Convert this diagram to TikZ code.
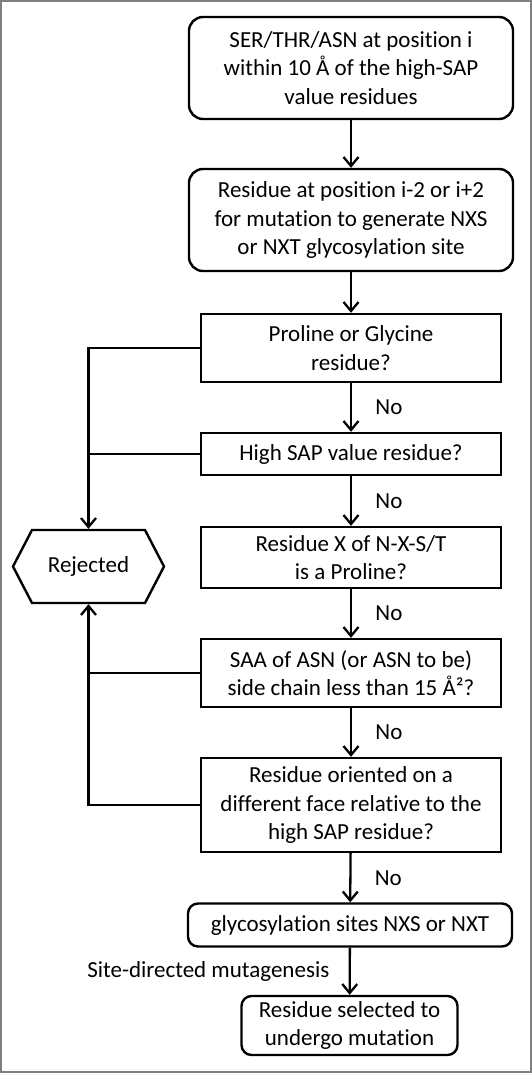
\documentclass[tikz,border=0pt]{standalone}
\usepackage{fontspec}
\setmainfont{Carlito}[Ligatures=NoCommon]
\usetikzlibrary{arrows.meta,shapes.symbols}

\tikzset{
  roundbox/.style={draw, rounded corners=14pt, line width=2.4pt, align=center, inner sep=0pt},
  squarebox/.style={draw, line width=2.4pt, align=center, inner sep=0pt, minimum width=300pt},
  flow/.style={line width=2.3pt, -{Straight Barb[length=9pt,width=15pt,line width=2.3pt]}},
  branch/.style={line width=2.3pt},
  nolabel/.style={midway, anchor=west, xshift=20pt}
}

\begin{document}
\begin{tikzpicture}[x=1pt, y=-1pt, font=\fontsize{23}{28.5}\selectfont]
  \useasboundingbox (0,0) rectangle (532,1073);
  \draw[gray, line width=2pt] (1,1) rectangle (531,1072);

  % Main column of steps.
  \node[roundbox, minimum width=324pt, minimum height=102pt] (start) at (351,68)
    {SER/THR/ASN at position i\\within 10 Å of the high-SAP\\value residues};
  \node[roundbox, minimum width=324pt, minimum height=102pt] (pos) at (351,220)
    {Residue at position i-2 or i+2\\for mutation to generate NXS\\or NXT glycosylation site};
  \node[squarebox, minimum height=68pt] (pro) at (351,348)
    {Proline or Glycine\\residue?};
  \node[squarebox, minimum height=42pt] (sap) at (351,454)
    {High SAP value residue?};
  \node[squarebox, minimum height=61pt] (nxst) at (351,557.5)
    {Residue X of N-X-S/T\\is a Proline?};
  \node[squarebox, minimum height=68pt] (saa) at (351,673)
    {SAA of ASN (or ASN to be)\\side chain less than 15 Å²?};
  \node[squarebox, minimum height=94pt] (face) at (351,805)
    {Residue oriented on a\\different face relative to the\\high SAP residue?};
  \node[roundbox, rounded corners=10pt, minimum width=324pt, minimum height=43pt] (site) at (350,925)
    {glycosylation sites NXS or NXT};
  \node[roundbox, rounded corners=10pt, minimum width=216pt, minimum height=59pt] (sel) at (349.5,1025.5)
    {Residue selected to\\undergo mutation};

  % Rejection box on the left.
  \node[draw, shape=signal, signal to=west and east, signal pointer angle=125,
        minimum width=151pt, minimum height=73pt, inner sep=0pt, line width=2.4pt] (rej) at (88.5,566.5) {Rejected};

  % Arrows down the column.
  \draw[flow] (start) -- (pos);
  \draw[flow] (pos) -- (pro);
  \draw[flow] (pro) -- (sap) node[nolabel] {No};
  \draw[flow] (sap) -- (nxst) node[nolabel] {No};
  \draw[flow] (nxst) -- (saa) node[nolabel] {No};
  \draw[flow] (saa) -- (face) node[nolabel] {No};
  \draw[flow] (face) -- (site) node[nolabel] {No};
  \draw[flow] (site) -- (sel) node[midway, anchor=east, xshift=-16pt] {Site-directed mutagenesis};

  % Branches to Rejected.
  \draw[flow] (pro.west) -| (rej.north);
  \draw[branch] (sap.west) -- (sap.west -| rej.north);
  \draw[flow] (face.west) -| (rej.south);
  \draw[branch] (saa.west) -- (saa.west -| rej.south);
\end{tikzpicture}
\end{document}
